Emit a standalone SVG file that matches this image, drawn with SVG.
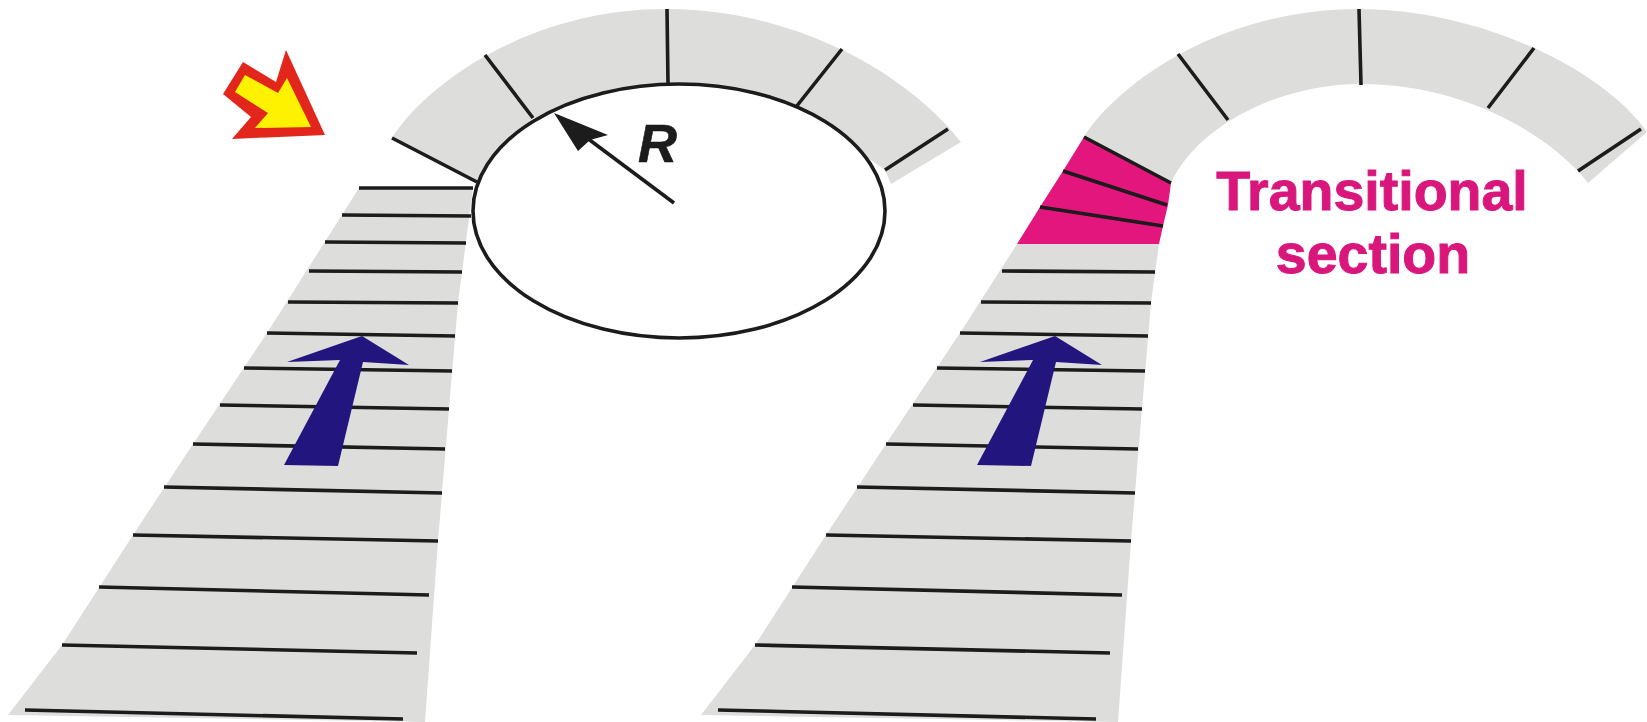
<svg xmlns="http://www.w3.org/2000/svg" width="1647" height="722" viewBox="0 0 1647 722">
<style>
.g{fill:#dddedc}
.l{fill:none;stroke:#1c1a1a;stroke-width:3.6}
.b{fill:#24177e}
.t{font-family:"Liberation Sans",Arial,sans-serif;font-weight:bold}
</style>
<defs>
<filter id="soft" x="0" y="0" width="100%" height="100%"><feGaussianBlur stdDeviation="0.6"/></filter>
<g id="rungs" class="l">
<path d="M309 271L462 272M288 302L458 303M267 333L455 336M244 368L452 371M220 405L449 409M193 444L445 449M164 487L442 493M133 535L438 541M99 587L429 595M62 645L417 653M25 710L403 719"/>
</g>
<path id="blue" class="b" d="M362 336L409 365L363 362L338 466L284 465L340 360L287 362Z"/>
</defs>
<rect width="1647" height="722" fill="#fff"/>
<g filter="url(#soft)">
<g id="left-road">
<path class="g" d="M359 188L267 333L193 444L133 535L62 645L8 715L425 722L438 541L449 409L458 303L473 188Z"/>
<use href="#rungs"/>
<path class="l" d="M359 188L473 188M342 215L471 216M325 242L466 243"/>
<use href="#blue"/>
</g>
<g id="left-arch">
<path class="g" d="M392 138C420 92 520 9 667 9C790 9 905 70 961 142L891 184L885 170L796 107L668 84L533 118L477 182Z"/>
<ellipse cx="679" cy="211" rx="206" ry="127" fill="#fff" stroke="#1c1a1a" stroke-width="3.6"/>
<path class="l" d="M392 138L477 182M485 55L533 118M667 9L668 84M842 49L796 107M948 129L885 170"/>
</g>
<g id="warning-arrow">
<path fill="#e2281c" d="M223 94L243 62L276 82L286 50L325 135L232 139L251 117Z"/>
<path fill="#fff200" d="M235 92L245 75L278 93L287 78L311 127L255 128L268 113Z"/>
</g>
<g id="radius">
<path class="l" d="M575 129L674 203"/>
<path fill="#1c1a1a" d="M554 113L608 135L590 140L578 151Z"/>
<text class="t" x="638" y="162" font-size="54" font-style="italic" fill="#1c1a1a" stroke="#1c1a1a" stroke-width="0.6">R</text>
</g>
<g id="right-road">
<path class="g" d="M1017 244L960 333L886 444L826 535L755 645L701 715L1118 722L1131 541L1142 409L1151 303L1159 244Z"/>
<use href="#rungs" x="693"/>
<use href="#blue" x="693"/>
</g>
<g id="right-arch">
<path class="g" d="M1084 137C1112 91 1212 9 1359 9C1475 9 1600 66 1647 132L1588 183C1555 140 1470 84 1361 84C1280 84 1198 125 1171 183Z"/>
<path class="l" d="M1178 54L1228 120M1359 9L1361 85M1534 48L1488 108M1641 129L1578 171"/>
</g>
<g id="transitional-section">
<path fill="#e2177c" d="M1017 244L1040 207L1063 171L1084 137L1171 183L1168 205L1163 226L1159 244Z"/>
<path class="l" d="M1084 137L1171 183M1063 171L1167 205M1040 207L1163 226"/>
<g class="t" font-size="55.5" fill="#d9187c" stroke="#d9187c" stroke-width="1" text-anchor="middle">
<text x="1372" y="210">Transitional</text>
<text x="1373" y="273">section</text>
</g>
</g>
</g>
</svg>
